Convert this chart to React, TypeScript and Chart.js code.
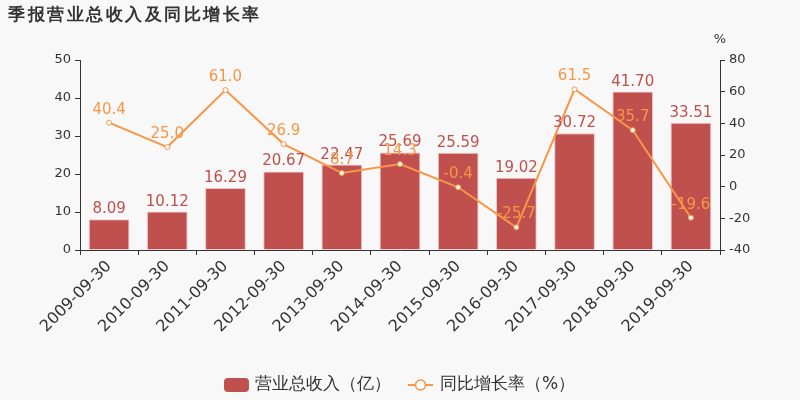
import React, { useEffect, useRef } from "react";
import { Chart, registerables } from "chart.js";

Chart.register(...registerables);

const categories = [
  "2009-09-30", "2010-09-30", "2011-09-30", "2012-09-30", "2013-09-30", "2014-09-30",
  "2015-09-30", "2016-09-30", "2017-09-30", "2018-09-30", "2019-09-30",
];
const revenue = [8.09, 10.12, 16.29, 20.67, 22.47, 25.69, 25.59, 19.02, 30.72, 41.7, 33.51];
const growth = [40.4, 25.0, 61.0, 26.9, 8.7, 14.3, -0.4, -25.7, 61.5, 35.7, -19.6];
const revenueLabel = "营业总收入（亿）";
const growthLabel = "同比增长率（%）";
const titleText = "季报营业总收入及同比增长率";

const BAR = "#c0504d";
const LINE = "#f79646";
const FONT = "'DejaVu Sans', sans-serif";

export default function App() {
  const ref = useRef<HTMLCanvasElement | null>(null);
  useEffect(() => {
    document.body.style.margin = "0";
    document.body.style.background = "#f8f8f8";
    const canvas = ref.current!;
    const decor = {
      id: "decor",
      beforeDraw(chart: any) {
        const ctx = chart.ctx;
        ctx.save();
        ctx.fillStyle = "#f8f8f8";
        ctx.fillRect(0, 0, chart.width, chart.height);
        ctx.restore();
      },
      afterDatasetsDraw(chart: any) {
        const ctx = chart.ctx;
        ctx.save();
        ctx.textAlign = "center";
        ctx.textBaseline = "alphabetic";
        ctx.font = `15px ${FONT}`;
        const m0 = chart.getDatasetMeta(0);
        m0.data.forEach((el: any, i: number) => {
          ctx.fillStyle = BAR;
          ctx.fillText(revenue[i].toFixed(2), el.x, el.y - 6);
        });
        const m1 = chart.getDatasetMeta(1);
        m1.data.forEach((el: any, i: number) => {
          ctx.fillStyle = LINE;
          ctx.fillText(growth[i].toFixed(1), el.x, el.y - 9);
        });
        // title
        ctx.textAlign = "left";
        ctx.fillStyle = "#333";
        ctx.font = `bold 17px ${FONT}`;
        (ctx as any).letterSpacing = "2.5px";
        ctx.fillText(titleText, 8, 20);
        (ctx as any).letterSpacing = "0px";
        // percent unit
        ctx.font = `13px ${FONT}`;
        ctx.textAlign = "center";
        ctx.fillText("%", 720, 43);
        // legend
        ctx.fillStyle = BAR;
        const rx = 224, ry = 378, rw = 25, rh = 14, rr = 4;
        ctx.beginPath();
        ctx.moveTo(rx + rr, ry);
        ctx.arcTo(rx + rw, ry, rx + rw, ry + rh, rr);
        ctx.arcTo(rx + rw, ry + rh, rx, ry + rh, rr);
        ctx.arcTo(rx, ry + rh, rx, ry, rr);
        ctx.arcTo(rx, ry, rx + rw, ry, rr);
        ctx.closePath();
        ctx.fill();
        ctx.font = `17px ${FONT}`;
        ctx.textAlign = "left";
        ctx.textBaseline = "middle";
        ctx.fillStyle = "#333";
        ctx.fillText(revenueLabel, 255, 385);
        ctx.strokeStyle = LINE;
        ctx.lineWidth = 2;
        ctx.beginPath();
        ctx.moveTo(408, 385);
        ctx.lineTo(433, 385);
        ctx.stroke();
        ctx.fillStyle = "#fff";
        ctx.lineWidth = 1.5;
        ctx.beginPath();
        ctx.arc(420.5, 385, 5, 0, Math.PI * 2);
        ctx.fill();
        ctx.stroke();
        ctx.fillStyle = "#333";
        ctx.fillText(growthLabel, 440, 385);
        ctx.restore();
      },
    };
    const chart = new Chart(canvas, {
      type: "bar",
      data: {
        labels: categories,
        datasets: [
          {
            type: "bar",
            label: revenueLabel,
            data: revenue,
            backgroundColor: BAR,
            borderColor: "rgba(240,180,180,0.8)",
            borderWidth: 1,
            barPercentage: 0.7,
            categoryPercentage: 1,
            yAxisID: "y",
            order: 2,
          },
          {
            type: "line",
            label: growthLabel,
            data: growth,
            borderColor: LINE,
            backgroundColor: "#fff",
            borderWidth: 2,
            pointRadius: 2.5,
            pointBorderWidth: 1,
            pointBackgroundColor: "#fff",
            pointBorderColor: LINE,
            tension: 0,
            yAxisID: "y1",
            order: 1,
          },
        ],
      },
      options: {
        responsive: false,
        animation: false,
        layout: { padding: { top: 60, left: 0, right: 0, bottom: 0 } },
        plugins: { legend: { display: false }, title: { display: false }, tooltip: { enabled: false } },
        scales: {
          x: {
            afterFit: (s: any) => { s.height = 150; },
            grid: { display: true, drawOnChartArea: false, color: "#333", tickLength: 5, offset: true },
            border: { color: "#333", width: 1 },
            ticks: { color: "#333", font: { size: 16, family: FONT }, maxRotation: 45, minRotation: 45, autoSkip: false, padding: 2 },
          },
          y: {
            position: "left",
            min: 0,
            max: 50,
            afterFit: (s: any) => { s.width = 80; },
            grid: { display: true, drawOnChartArea: false, color: "#333", tickLength: 5 },
            border: { color: "#333", width: 1 },
            ticks: { stepSize: 10, color: "#333", font: { size: 13, family: FONT }, padding: 4 },
          },
          y1: {
            position: "right",
            min: -40,
            max: 80,
            afterFit: (s: any) => { s.width = 80; },
            grid: { display: true, drawOnChartArea: false, color: "#333", tickLength: 5 },
            border: { color: "#333", width: 1 },
            ticks: { stepSize: 20, color: "#333", font: { size: 13, family: FONT }, padding: 4 },
          },
        },
      },
      plugins: [decor],
    } as any);
    return () => chart.destroy();
  }, []);
  return <canvas ref={ref} width={800} height={400} style={{ display: "block", width: 800, height: 400 }} />;
}
